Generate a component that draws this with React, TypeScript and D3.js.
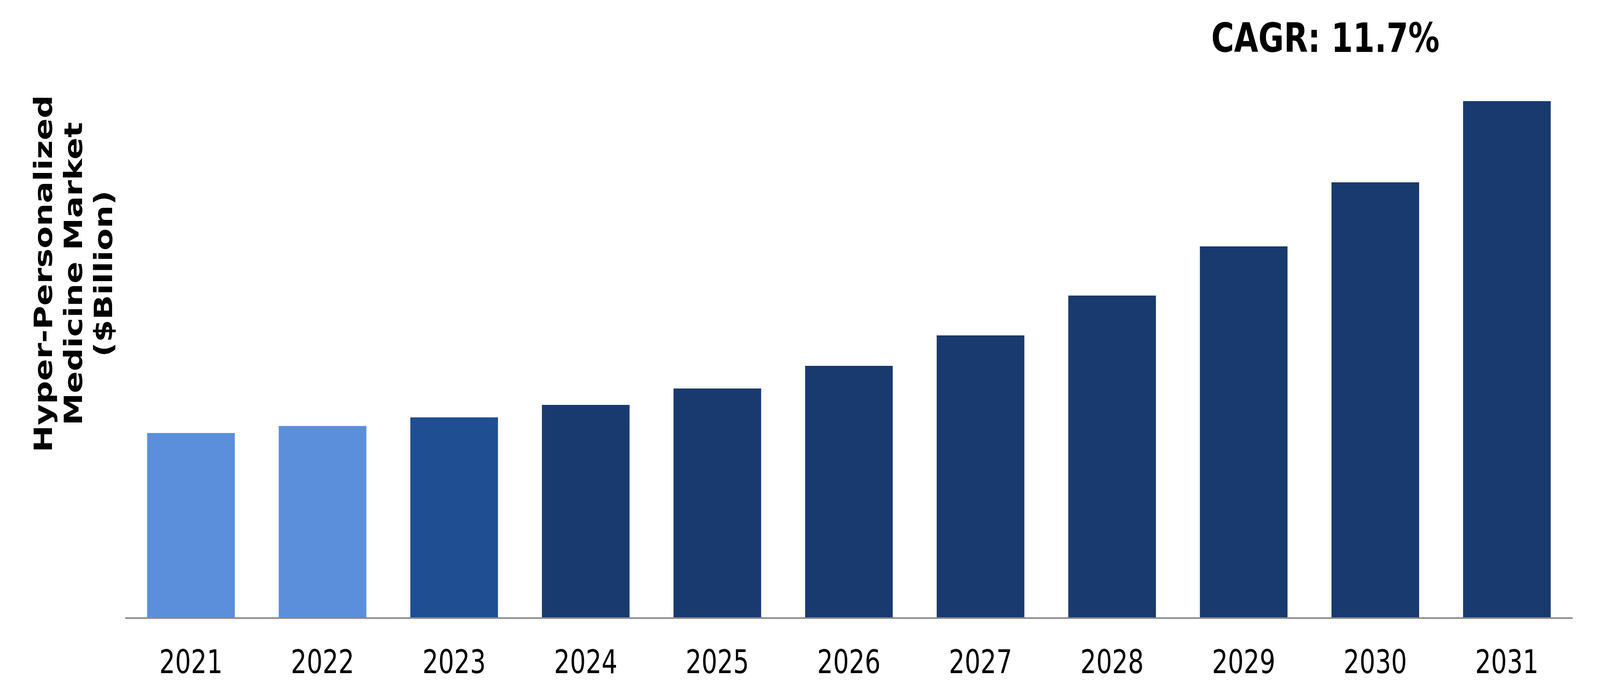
import React, { useEffect, useRef } from 'react';
import * as d3 from 'd3';

// Chart data
const years = ['2021', '2022', '2023', '2024', '2025', '2026', '2027', '2028', '2029', '2030', '2031'];
const marketValues = [2.36, 2.45, 2.56, 2.72, 2.93, 3.22, 3.61, 4.12, 4.75, 5.57, 6.61];
const barColors = [
  '#5b8fdc', '#5b8fdc', '#1f4e93', '#183a6e', '#183a6e', '#183a6e',
  '#183a6e', '#183a6e', '#183a6e', '#183a6e', '#183a6e',
];
const yTitleLines = ['Hyper-Personalized', 'Medicine Market', '($Billion)'];
const cagrLabel = 'CAGR: 11.7%';

const WIDTH = 5331;
const HEIGHT = 1757;
const FONT = '"DejaVu Sans", Verdana, sans-serif';

const App: React.FC = () => {
  const svgRef = useRef<SVGSVGElement>(null);

  useEffect(() => {
    if (!svgRef.current) return;
    const svg = d3.select(svgRef.current);
    svg.selectAll('*').remove();

    const margin = { left: 417, right: 91, bottom: 176 };
    const baseline = HEIGHT - margin.bottom;

    const x = d3.scaleBand()
      .domain(years)
      .range([margin.left, WIDTH - margin.right])
      .paddingInner(0.334)
      .paddingOuter(0.167);

    const y = d3.scaleLinear()
      .domain([0, 7.5])
      .range([baseline, baseline - 1500]);

    svg.append('rect')
      .attr('width', WIDTH)
      .attr('height', HEIGHT)
      .attr('fill', '#fff');

    // bars
    svg.append('g')
      .selectAll('rect')
      .data(marketValues)
      .enter()
      .append('rect')
      .attr('x', (_d, i) => x(years[i]) || 0)
      .attr('y', d => y(d))
      .attr('width', x.bandwidth())
      .attr('height', d => baseline - y(d))
      .attr('fill', (_d, i) => barColors[i]);

    // x axis line + labels
    svg.append('line')
      .attr('x1', margin.left)
      .attr('x2', WIDTH - margin.right)
      .attr('y1', baseline + 2)
      .attr('y2', baseline + 2)
      .attr('stroke', '#898989')
      .attr('stroke-width', 4);

    svg.append('g')
      .selectAll('text')
      .data(years)
      .enter()
      .append('text')
      .attr('x', d => (x(d) || 0) + x.bandwidth() / 2)
      .attr('y', 1724)
      .attr('text-anchor', 'middle')
      .attr('font-family', FONT)
      .attr('font-size', 83)
      .attr('fill', '#000')
      .text(d => d);

    // y axis title, rotated
    const title = svg.append('text')
      .attr('transform', 'translate(173,701) rotate(-90)')
      .attr('text-anchor', 'middle')
      .attr('font-family', FONT)
      .attr('font-weight', 'bold')
      .attr('font-size', 83)
      .attr('fill', '#000');
    yTitleLines.forEach((line, i) => {
      title.append('tspan')
        .attr('x', 0)
        .attr('y', i * 100)
        .text(line);
    });

    // CAGR note
    svg.append('text')
      .attr('x', 4416)
      .attr('y', 133)
      .attr('text-anchor', 'middle')
      .attr('font-family', FONT)
      .attr('font-weight', 'bold')
      .attr('font-size', 104)
      .attr('fill', '#000')
      .text(cagrLabel);
  }, []);

  // stretch the fixed 5331x1757 layout over the whole viewport
  return (
    <svg
      ref={svgRef}
      viewBox={`0 0 ${WIDTH} ${HEIGHT}`}
      preserveAspectRatio="none"
      style={{ position: 'fixed', left: 0, top: 0, width: '100vw', height: '100vh', display: 'block', background: '#fff' }}
    />
  );
};

export default App;
